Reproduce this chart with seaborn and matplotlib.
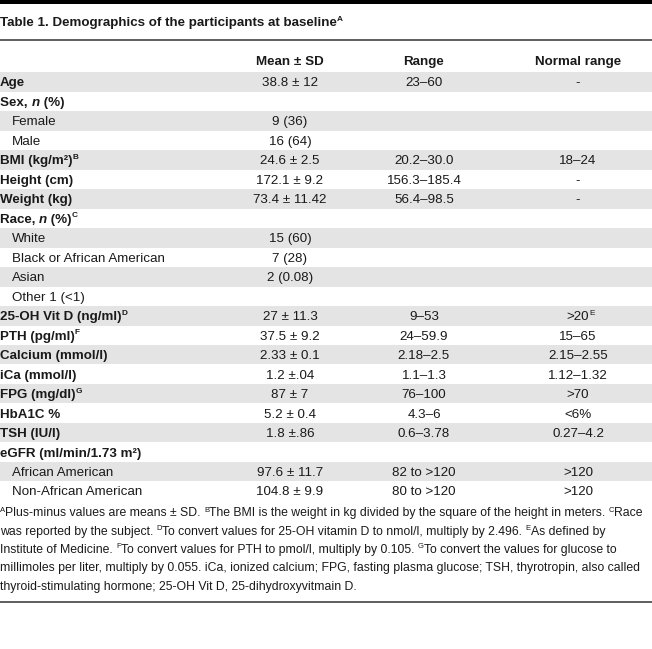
import re
import matplotlib
matplotlib.use("Agg")
import matplotlib.pyplot as plt
import seaborn as sns

# Tabla 1: datos
labels = ["Age", "Sex, _{n} (%)", "Female", "Male", "BMI (kg/m²)^{B}", "Height (cm)",
          "Weight (kg)", "Race, _{n} (%)^{C}", "White", "Black or African American",
          "Asian", "Other 1 (<1)", "25-OH Vit D (ng/ml)^{D}", "PTH (pg/ml)^{F}",
          "Calcium (mmol/l)", "iCa (mmol/l)", "FPG (mg/dl)^{G}", "HbA1C %",
          "TSH (IU/l)", "eGFR (ml/min/1.73 m²)", "African American", "Non-African American"]
sub_row = [False, False, True, True, False, False, False, False, True, True, True, True,
           False, False, False, False, False, False, False, False, True, True]
mean_sd = ["38.8 ± 12", "", "9 (36)", "16 (64)", "24.6 ± 2.5", "172.1 ± 9.2", "73.4 ± 11.42",
           "", "15 (60)", "7 (28)", "2 (0.08)", "", "27 ± 11.3", "37.5 ± 9.2", "2.33 ± 0.1",
           "1.2 ±.04", "87 ± 7", "5.2 ± 0.4", "1.8 ±.86", "", "97.6 ± 11.7", "104.8 ± 9.9"]
ranges = ["23–60", "", "", "", "20.2–30.0", "156.3–185.4", "56.4–98.5", "", "", "", "", "",
          "9–53", "24–59.9", "2.18–2.5", "1.1–1.3", "76–100", "4.3–6", "0.6–3.78", "",
          "82 to >120", "80 to >120"]
normal = ["-", "", "", "", "18–24", "-", "-", "", "", "", "", "", ">20^{E}", "15–65",
          "2.15–2.55", "1.12–1.32", ">70", "<6%", "0.27–4.2", "", ">120", ">120"]
headers = ["Mean ± SD", "Range", "Normal range"]
title = "Table 1. Demographics of the participants at baseline^{A}"
notes = [
    "^{A}Plus-minus values are means ± SD. ^{B}The BMI is the weight in kg divided by the square of the height in meters. ^{C}Race",
    "was reported by the subject. ^{D}To convert values for 25-OH vitamin D to nmol/l, multiply by 2.496. ^{E}As defined by",
    "Institute of Medicine. ^{F}To convert values for PTH to pmol/l, multiply by 0.105. ^{G}To convert the values for glucose to",
    "millimoles per liter, multiply by 0.055. iCa, ionized calcium; FPG, fasting plasma glucose; TSH, thyrotropin, also called",
    "thyroid-stimulating hormone; 25-OH Vit D, 25-dihydroxyvitmain D.",
]

sns.set_theme(style="white")
plt.rcParams["font.family"] = ["Liberation Sans Narrow", "Liberation Sans", "DejaVu Sans"]
ink = "#1a1a1a"
fs = 9.6

fig = plt.figure(figsize=(6.52, 6.49), dpi=100)
ax = fig.add_axes([0, 0, 1, 1])
ax.set_xlim(0, 652)
ax.set_ylim(649, 0)
ax.axis("off")
rend = fig.canvas.get_renderer()


def runs(s):
    out = []
    for p in re.split(r"(\^\{[^}]*\}|_\{[^}]*\})", s):
        if not p:
            continue
        if p.startswith("^{"):
            out.append((p[2:-1], "sup"))
        elif p.startswith("_{"):
            out.append((p[2:-1], "it"))
        else:
            out.append((p, "n"))
    return out


def put(x, y, s, size=fs, weight="normal", ha="left"):
    # y = linea base, escribe por tramos (superindice / cursiva)
    arts = []
    for txt, kind in runs(s):
        sz = size * 0.62 if kind == "sup" else size
        dy = -size * 0.55 if kind == "sup" else 0
        st = "italic" if kind == "it" else "normal"
        t = ax.text(x, y + dy, txt, fontsize=sz, fontweight=weight, fontstyle=st,
                    color=ink, va="baseline", ha="left")
        arts.append((t, kind))
    widths = [t.get_window_extent(renderer=rend).width for t, k in arts]
    if ha == "center":
        main = sum(w for (t, k), w in zip(arts, widths) if k != "sup")
        x0 = x - main / 2
    else:
        x0 = x
    for (t, k), w in zip(arts, widths):
        t.set_x(x0)
        x0 += w
    return x0


# barras y lineas
ax.axhspan(0, 4, color="black", lw=0)
ax.axhline(40, color="#333333", lw=1.1)
ax.axhline(602, color="#333333", lw=1.1)

row_h = 19.48
row0 = 82
cols = [290, 424, 578]
base = 4.4

put(0, 22 + base, title, size=9.6, weight="bold")
for c, h in zip(cols, headers):
    put(c, 61 + base, h, weight="bold", ha="center")

for i, lab in enumerate(labels):
    yc = row0 + i * row_h
    if i % 2 == 0:
        ax.axhspan(yc - row_h / 2, yc + row_h / 2, color="#e4e4e4", lw=0, zorder=0)
    if sub_row[i]:
        put(12, yc + base, lab)
    else:
        put(0, yc + base, lab, weight="bold")
    for c, v in zip(cols, [mean_sd[i], ranges[i], normal[i]]):
        if v:
            put(c, yc + base, v, ha="center")

# notas: ajustar tamaño para que la primera linea quepa en ~636 px
probe = ax.text(0, 0, notes[0].replace("^{A}", "").replace("^{B}", "").replace("^{C}", ""),
                fontsize=fs)
w = probe.get_window_extent(renderer=rend).width
probe.remove()
nfs = fs * 628 / w
for j, line in enumerate(notes):
    put(0, 512 + j * 18.3 + base, line, size=nfs)

fig.savefig("out.png", dpi=100)
